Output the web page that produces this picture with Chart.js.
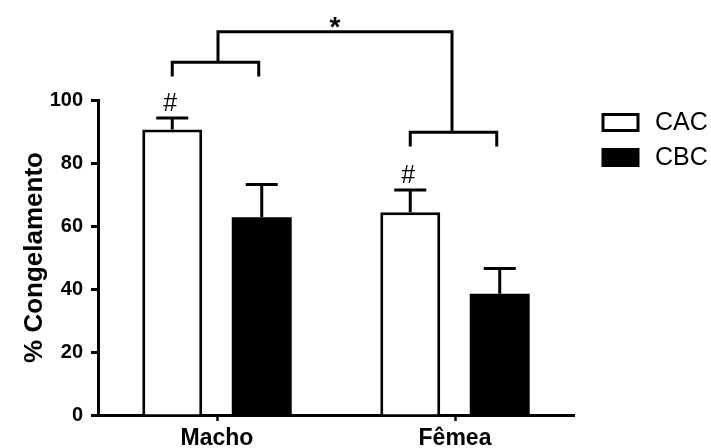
<!DOCTYPE html>
<html>
<head>
<meta charset="utf-8">
<script src="https://cdn.jsdelivr.net/npm/chart.js@4/dist/chart.umd.min.js"></script>
<style>
  html, body { margin: 0; padding: 0; background: #fff; }
  #wrap { width: 711px; height: 448px; }
</style>
</head>
<body>
<div id="wrap"><canvas id="chart" width="711" height="448"></canvas></div>
<script>
// values
const groups = ['Macho', 'Fêmea'];
const seriesNames = ['CAC', 'CBC'];
const cacMeans = [90.6, 64.4];
const cbcMeans = [62.8, 38.5];
const cacErr = [3.7, 7.0];
const cbcErr = [10.4, 8.0];
const hashMarks = ['#', '#'];          // shown over the CAC bars
// bracket levels (in % units)
const groupBracket = [112, 89.8];       // per group: horizontal bar
const groupBracketLeg = [107.5, 85.2];  // per group: leg ends
const topBracket = 121.7;
const topStar = '*';

const AXIS = '#000';
const FONT = 'Arial, "Liberation Sans", sans-serif';

// error bars, # marks, brackets and legend
const annotations = {
  id: 'annotations',
  afterDatasetsDraw(chart) {
    const ctx = chart.ctx;
    const y = chart.scales.y;
    const x = chart.scales.x;
    const cac = chart.getDatasetMeta(0).data;
    const cbc = chart.getDatasetMeta(1).data;
    ctx.save();
    ctx.strokeStyle = '#000';
    ctx.fillStyle = '#000';
    ctx.lineWidth = 3;

    // error bars (upper only)
    const errs = [cacErr, cbcErr];
    const means = [cacMeans, cbcMeans];
    [cac, cbc].forEach((bars, s) => {
      bars.forEach((bar, i) => {
        const y0 = y.getPixelForValue(means[s][i]);
        const y1 = y.getPixelForValue(means[s][i] + errs[s][i]);
        ctx.beginPath();
        ctx.moveTo(bar.x, y0);
        ctx.lineTo(bar.x, y1);
        ctx.moveTo(bar.x - 16, y1);
        ctx.lineTo(bar.x + 16, y1);
        ctx.stroke();
      });
    });

    // # over CAC
    ctx.font = '25px ' + FONT;
    ctx.textAlign = 'center';
    ctx.textBaseline = 'alphabetic';
    cac.forEach((bar, i) => {
      const yc = y.getPixelForValue(cacMeans[i] + cacErr[i]);
      ctx.fillText(hashMarks[i], bar.x - 2, yc - 7);
    });

    // group brackets
    groups.forEach((g, i) => {
      const yb = y.getPixelForValue(groupBracket[i]);
      const yl = y.getPixelForValue(groupBracketLeg[i]);
      ctx.beginPath();
      ctx.moveTo(cac[i].x, yl);
      ctx.lineTo(cac[i].x, yb);
      ctx.lineTo(cbc[i].x - 3, yb);
      ctx.lineTo(cbc[i].x - 3, yl);
      ctx.stroke();
    });

    // top bracket joining the groups
    const yt = y.getPixelForValue(topBracket);
    const xa = x.getPixelForValue(0) + 1;
    const xb = x.getPixelForValue(1) - 3;
    ctx.beginPath();
    ctx.moveTo(xa, y.getPixelForValue(groupBracket[0]));
    ctx.lineTo(xa, yt);
    ctx.lineTo(xb, yt);
    ctx.lineTo(xb, y.getPixelForValue(groupBracket[1]));
    ctx.stroke();
    ctx.font = 'bold 28px ' + FONT;
    ctx.fillText(topStar, (xa + xb) / 2, yt + 4);

    // legend
    ctx.lineWidth = 3;
    ctx.strokeRect(603, 114.5, 35, 16);
    ctx.fillRect(601.5, 148, 38, 19);
    ctx.font = '25px ' + FONT;
    ctx.textAlign = 'left';
    ctx.textBaseline = 'middle';
    ctx.fillText(seriesNames[0], 655, 123.5);
    ctx.fillText(seriesNames[1], 655, 158);
    ctx.restore();
  }
};

new Chart(document.getElementById('chart'), {
  type: 'bar',
  data: {
    labels: groups,
    datasets: [
      {
        label: seriesNames[0],
        data: cacMeans,
        backgroundColor: '#fff',
        borderColor: '#000',
        borderWidth: 3,
        borderSkipped: 'bottom',
        categoryPercentage: 0.752,
        barPercentage: 0.67
      },
      {
        label: seriesNames[1],
        data: cbcMeans,
        backgroundColor: '#000',
        borderColor: '#000',
        borderWidth: 0,
        categoryPercentage: 0.752,
        barPercentage: 0.67
      }
    ]
  },
  options: {
    responsive: false,
    animation: false,
    devicePixelRatio: 1,
    layout: { padding: { top: 100, right: 137, left: 0, bottom: 0 } },
    plugins: {
      legend: { display: false },
      tooltip: { enabled: false }
    },
    scales: {
      x: {
        afterFit: (s) => { s.height = 33; },
        grid: {
          offset: false,
          drawOnChartArea: false,
          drawTicks: true,
          tickLength: 6,
          tickWidth: 2.5,
          tickColor: AXIS
        },
        border: { display: true, color: AXIS, width: 3 },
        ticks: {
          color: '#000',
          padding: 4,
          font: { family: FONT, size: 23, weight: 'bold' }
        }
      },
      y: {
        min: 0,
        max: 100,
        afterFit: (s) => { s.width = 98; },
        ticks: {
          stepSize: 20,
          color: '#000',
          padding: 8,
          font: { family: FONT, size: 20, weight: 'bold' }
        },
        grid: {
          drawOnChartArea: false,
          drawTicks: true,
          tickLength: 7,
          tickWidth: 3,
          tickColor: AXIS
        },
        border: { display: true, color: AXIS, width: 3 },
        title: {
          display: true,
          text: '% Congelamento',
          color: '#000',
          padding: { top: 19, bottom: 0 },
          font: { family: FONT, size: 26, weight: 'bold' }
        }
      }
    }
  },
  plugins: [annotations]
});
</script>
</body>
</html>
